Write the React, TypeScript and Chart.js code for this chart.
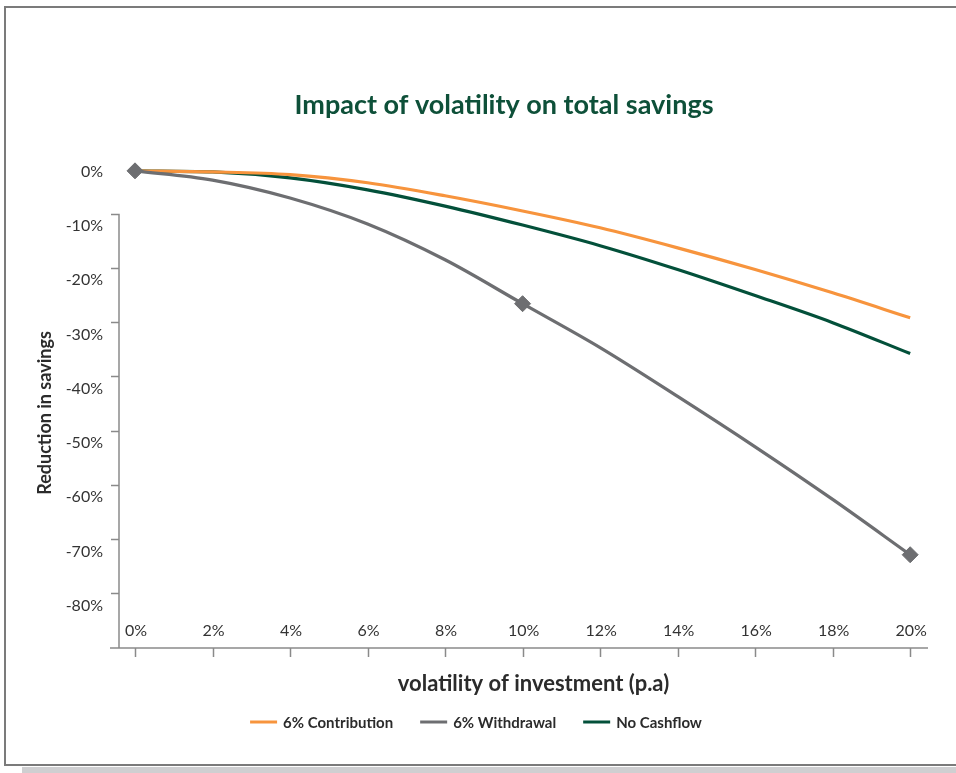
import React, { useEffect, useRef } from "react";
import { Chart, registerables } from "chart.js";

Chart.register(...registerables);

// ---------- data ----------
const volatility = [0, 2, 4, 6, 8, 10, 12, 14, 16, 18, 20];
const xTickLabels = ["0%", "2%", "4%", "6%", "8%", "10%", "12%", "14%", "16%", "18%", "20%"];
const yTickValues = [0, -10, -20, -30, -40, -50, -60, -70, -80];
const yTickLabels = ["0%", "-10%", "-20%", "-30%", "-40%", "-50%", "-60%", "-70%", "-80%"];
const seriesNames = ["6% Contribution", "6% Withdrawal", "No Cashflow"];
const contribution = [0, -0.2, -0.7, -2.2, -4.6, -7.4, -10.5, -14.2, -18.2, -22.5, -27.1];
const withdrawal = [0, -1.7, -5.0, -9.8, -16.4, -24.5, -32.6, -41.6, -50.9, -60.6, -70.8];
const noCashflow = [0, -0.2, -1.3, -3.5, -6.5, -10.0, -13.8, -18.2, -23.0, -28.0, -33.7];
const withdrawalMarkers = [8, 0, 0, 0, 0, 8, 0, 0, 0, 0, 8];
const chartTitle = "Impact of volatility on total savings";
const xAxisTitle = "volatility of investment (p.a)";
const yAxisTitle = "Reduction in savings";

// ---------- style ----------
const ORANGE = "#F7943D";
const GREY = "#6D6E71";
const GREEN = "#03503A";
const TITLE_GREEN = "#0E5039";
const TEXT = "#333333";
const AXIS = "#8a8a8a";
const FONT = "Lato, 'Open Sans', sans-serif";
const Y_MARK_SHIFT = 2.1; // tick marks sit slightly above their labels

const decorPlugin = {
  id: "decor",
  beforeDatasetsDraw(chart: any) {
    const { ctx, chartArea: ca, scales } = chart;
    const x = scales.x;
    const y = scales.y;
    const W = chart.width;
    ctx.save();

    // frame + shadow
    ctx.fillStyle = "#cfcfd1";
    ctx.fillRect(22, 767, W - 22, 6);
    ctx.strokeStyle = "#7b7b7b";
    ctx.lineWidth = 2;
    ctx.beginPath();
    ctx.moveTo(W + 5, 7);
    ctx.lineTo(5, 7);
    ctx.lineTo(5, 765);
    ctx.lineTo(W + 5, 765);
    ctx.stroke();

    // axes
    ctx.strokeStyle = AXIS;
    ctx.lineWidth = 1.5;
    ctx.beginPath();
    const yTop = y.getPixelForValue(yTickValues[1] + Y_MARK_SHIFT);
    ctx.moveTo(ca.left, yTop);
    ctx.lineTo(ca.left, ca.bottom);
    ctx.moveTo(ca.left - 9, ca.bottom);
    ctx.lineTo(ca.right, ca.bottom);
    volatility.forEach((v) => {
      const px = Math.round(x.getPixelForValue(v)) + 0.5;
      ctx.moveTo(px, ca.bottom);
      ctx.lineTo(px, ca.bottom + 9);
    });
    yTickValues.slice(1).forEach((v) => {
      const py = Math.round(y.getPixelForValue(v + Y_MARK_SHIFT)) + 0.5;
      ctx.moveTo(ca.left - 8, py);
      ctx.lineTo(ca.left, py);
    });
    ctx.stroke();

    // y tick labels
    ctx.fillStyle = TEXT;
    ctx.font = `16px ${FONT}`;
    ctx.textAlign = "right";
    ctx.textBaseline = "middle";
    yTickValues.forEach((v, i) => {
      ctx.fillText(yTickLabels[i], ca.left - 16, y.getPixelForValue(v) + 1);
    });

    // x tick labels (inside plot, above axis)
    ctx.textAlign = "center";
    volatility.forEach((v, i) => {
      ctx.fillText(xTickLabels[i], x.getPixelForValue(v) + 1, ca.bottom - 17);
    });

    // x axis title
    ctx.font = `bold 22px ${FONT}`;
    ctx.fillStyle = "#2b2b2b";
    ctx.fillText(xAxisTitle, (ca.left + ca.right) / 2 + 10, ca.bottom + 36);

    // y axis title
    ctx.save();
    ctx.translate(45, (ca.top + ca.bottom) / 2 + 9);
    ctx.rotate(-Math.PI / 2);
    ctx.font = `bold 18px ${FONT}`;
    ctx.fillText(yAxisTitle, 0, 0);
    ctx.restore();

    // chart title
    ctx.font = `bold 27px ${FONT}`;
    ctx.fillStyle = TITLE_GREEN;
    ctx.fillText(chartTitle, 504, 105);

    // legend
    ctx.font = `bold 15px ${FONT}`;
    const lineW = 27;
    const gapText = 6;
    const gapItem = 27;
    const widths = chart.data.datasets.map(
      (d: any) => lineW + gapText + ctx.measureText(d.label).width
    );
    const total = widths.reduce((a: number, b: number) => a + b, 0) + gapItem * (widths.length - 1);
    let lx = 476 - total / 2;
    const ly = 722;
    chart.data.datasets.forEach((d: any, i: number) => {
      ctx.strokeStyle = d.borderColor;
      ctx.lineWidth = 3;
      ctx.beginPath();
      ctx.moveTo(lx, ly);
      ctx.lineTo(lx + lineW, ly);
      ctx.stroke();
      ctx.fillStyle = "#2b2b2b";
      ctx.textAlign = "left";
      ctx.fillText(d.label, lx + lineW + gapText, ly + 1);
      lx += widths[i] + gapItem;
    });

    ctx.restore();
  },
};

export default function App() {
  const canvasRef = useRef<HTMLCanvasElement | null>(null);

  useEffect(() => {
    if (!canvasRef.current) return;
    const mk = (v: number[]) => volatility.map((xv, i) => ({ x: xv, y: v[i] }));
    const chart = new Chart(canvasRef.current, {
      type: "line",
      data: {
        datasets: [
          {
            label: seriesNames[0],
            data: mk(contribution),
            borderColor: ORANGE,
            backgroundColor: ORANGE,
            borderWidth: 3.2,
            pointRadius: 0,
            cubicInterpolationMode: "monotone",
            order: 1,
            clip: false,
          },
          {
            label: seriesNames[1],
            data: mk(withdrawal),
            borderColor: GREY,
            backgroundColor: GREY,
            borderWidth: 3.2,
            pointRadius: withdrawalMarkers,
            pointStyle: "rectRot",
            pointBackgroundColor: GREY,
            pointBorderColor: GREY,
            pointBorderWidth: 1,
            cubicInterpolationMode: "monotone",
            order: 0,
            clip: false,
          },
          {
            label: seriesNames[2],
            data: mk(noCashflow),
            borderColor: GREEN,
            backgroundColor: GREEN,
            borderWidth: 3.2,
            pointRadius: 0,
            cubicInterpolationMode: "monotone",
            order: 2,
            clip: false,
          },
        ] as any,
      },
      options: {
        animation: false,
        responsive: false,
        maintainAspectRatio: false,
        devicePixelRatio: 1,
        layout: { padding: { left: 119, right: 28, top: 160, bottom: 125 } },
        scales: {
          x: { type: "linear", display: false, min: -0.413, max: 20.46 },
          y: { type: "linear", display: false, min: -88, max: 2 },
        },
        plugins: {
          legend: { display: false },
          title: { display: false },
          tooltip: { enabled: false },
        },
      },
      plugins: [decorPlugin],
    });
    return () => chart.destroy();
  }, []);

  return (
    <div style={{ position: "fixed", left: 0, top: 0, width: 956, height: 773, background: "#fff" }}>
      <canvas ref={canvasRef} width={956} height={773} style={{ display: "block" }} />
    </div>
  );
}
